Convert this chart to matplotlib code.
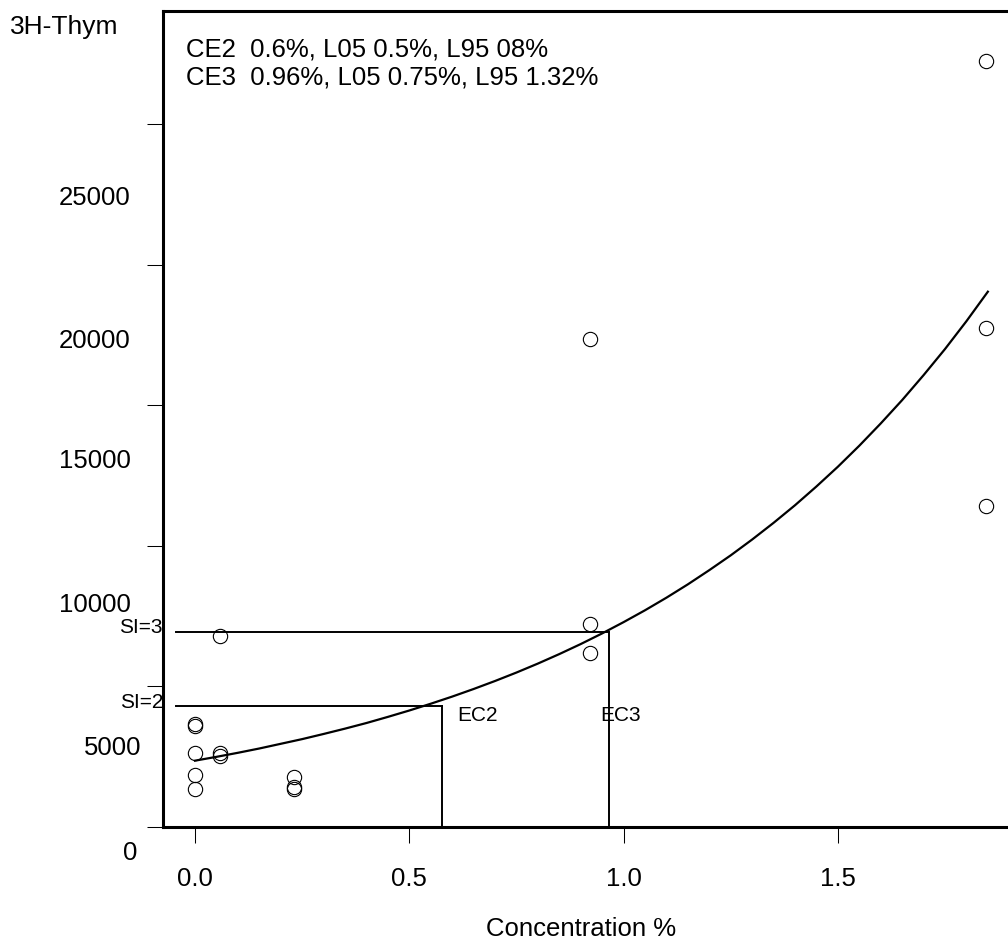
import numpy as np
import matplotlib
matplotlib.use("Agg")
import matplotlib.pyplot as plt
import matplotlib.transforms as mtransforms

plt.rcParams['font.family'] = ['Liberation Sans', 'DejaVu Sans']

# donnees
conc_0 = [0.0, 0.0, 0.0, 0.0, 0.0]
thym_0 = [3655, 3584, 2633, 1840, 1352]
conc_1 = [0.0575, 0.0575, 0.0575]
thym_1 = [6786, 2612, 2527]
conc_2 = [0.23, 0.23, 0.23]
thym_2 = [1779, 1423, 1331]
conc_3 = [0.922, 0.922, 0.922]
thym_3 = [17345, 7214, 6171]
conc_4 = [1.846, 1.846, 1.846]
thym_4 = [27260, 17737, 11423]

# courbe ajustee (points lus)
fit_x = [0.0, 0.05, 0.1, 0.15, 0.2, 0.25, 0.3, 0.35, 0.4, 0.45, 0.5,
         0.55, 0.6, 0.65, 0.7, 0.75, 0.8, 0.85, 0.9, 0.95, 1.0,
         1.05, 1.1, 1.15, 1.2, 1.25, 1.3, 1.35, 1.4, 1.45, 1.5,
         1.55, 1.6, 1.65, 1.7, 1.75, 1.8, 1.85]
fit_y = [2350, 2486, 2630, 2783, 2950, 3117, 3300, 3490, 3690, 3908, 4135,
         4376, 4630, 4900, 5185, 5486, 5805, 6143, 6500, 6879, 7280,
         7702, 8150, 8625, 9130, 9657, 10220, 10814, 11440, 12108, 12810,
         13558, 14350, 15182, 16070, 16999, 17990, 19040]

si_levels = [4285, 6940]
si_labels = ["SI=2", "SI=3"]
ec_values = [0.576, 0.967]
ec_labels = ["EC2", "EC3"]

x_ticks = [0.0, 0.5, 1.0, 1.5]
x_ticklabels = ["0.0", "0.5", "1.0", "1.5"]
y_ticks = [0, 5000, 10000, 15000, 20000, 25000]
y_ticklabels = ["0", "5000", "10000", "15000", "20000", "25000"]

header = ["CE2  0.6%, L05 0.5%, L95 08%",
          "CE3  0.96%, L05 0.75%, L95 1.32%"]

W, H = 1008, 951
fig = plt.figure(figsize=(W / 100, H / 100), dpi=100)


def fx(px):
    return px / W


def fy(py):
    return 1 - py / H


ax = fig.add_axes([fx(163), fy(826.7), fx(1008) - fx(163), fy(10.7) - fy(826.7)])
ax.set_xlim(-0.0747, 1.897)
ax.set_ylim(0, 29040)

for s in ['left', 'top', 'bottom']:
    ax.spines[s].set_linewidth(2.2)
ax.spines['right'].set_visible(False)

ax.set_xticks(x_ticks)
ax.set_xticklabels(x_ticklabels)
ax.set_yticks(y_ticks)
ax.set_yticklabels([])
ax.tick_params(axis='both', direction='out', length=11.5, width=0.75)
ax.tick_params(axis='x', labelsize=18.5, pad=17.5)

mk = dict(ls='none', marker='o', ms=10.3, mfc='none', mec='black', mew=0.8)
for cx, cy in [(conc_0, thym_0), (conc_1, thym_1), (conc_2, thym_2),
               (conc_3, thym_3), (conc_4, thym_4)]:
    ax.plot(cx, cy, **mk)

ax.plot(fit_x, fit_y, color='black', lw=1.6, solid_joinstyle='round')

# lignes SI / EC
x_start = -0.045
for lev, ec in zip(si_levels, ec_values):
    ax.plot([x_start, ec], [lev, lev], color='black', lw=1.4)
    ax.plot([ec, ec], [0, lev], color='black', lw=1.4)

blend = mtransforms.blended_transform_factory(ax.transAxes, ax.transData)
for lev, lab in zip(si_levels, si_labels):
    ax.text(0.0, lev + 150, lab, transform=blend, ha='right', va='center', fontsize=15)
ax.text(ec_values[0] + 0.035, 3975, ec_labels[0], ha='left', va='center', fontsize=15)
ax.text(ec_values[1] - 0.021, 3975, ec_labels[1], ha='left', va='center', fontsize=15)

# texte en haut
fig.text(fx(186), fy(57), header[0], ha='left', va='baseline', fontsize=18.5)
fig.text(fx(186), fy(84), header[1], ha='left', va='baseline', fontsize=18.5)

# etiquettes de l'axe y (decalees comme sur l'original)
ylab_pos = [(137, 860), (141, 755), (131, 611.7), (131, 467.5), (131, 347.5), (131, 205)]
for lab, (px, py) in zip(y_ticklabels, ylab_pos):
    fig.text(fx(px), fy(py), lab, ha='right', va='baseline', fontsize=18.5)

ax.set_ylabel("3H-Thym", rotation=0, ha='left', va='baseline', fontsize=19)
ax.yaxis.set_label_coords((10 - 163) / 845, (826.7 - 34) / 816)
ax.set_xlabel("Concentration %", fontsize=18.5, va='baseline')
ax.xaxis.set_label_coords((581 - 163) / 845, (826.7 - 936) / 816)

fig.savefig("out.png", dpi=100)
